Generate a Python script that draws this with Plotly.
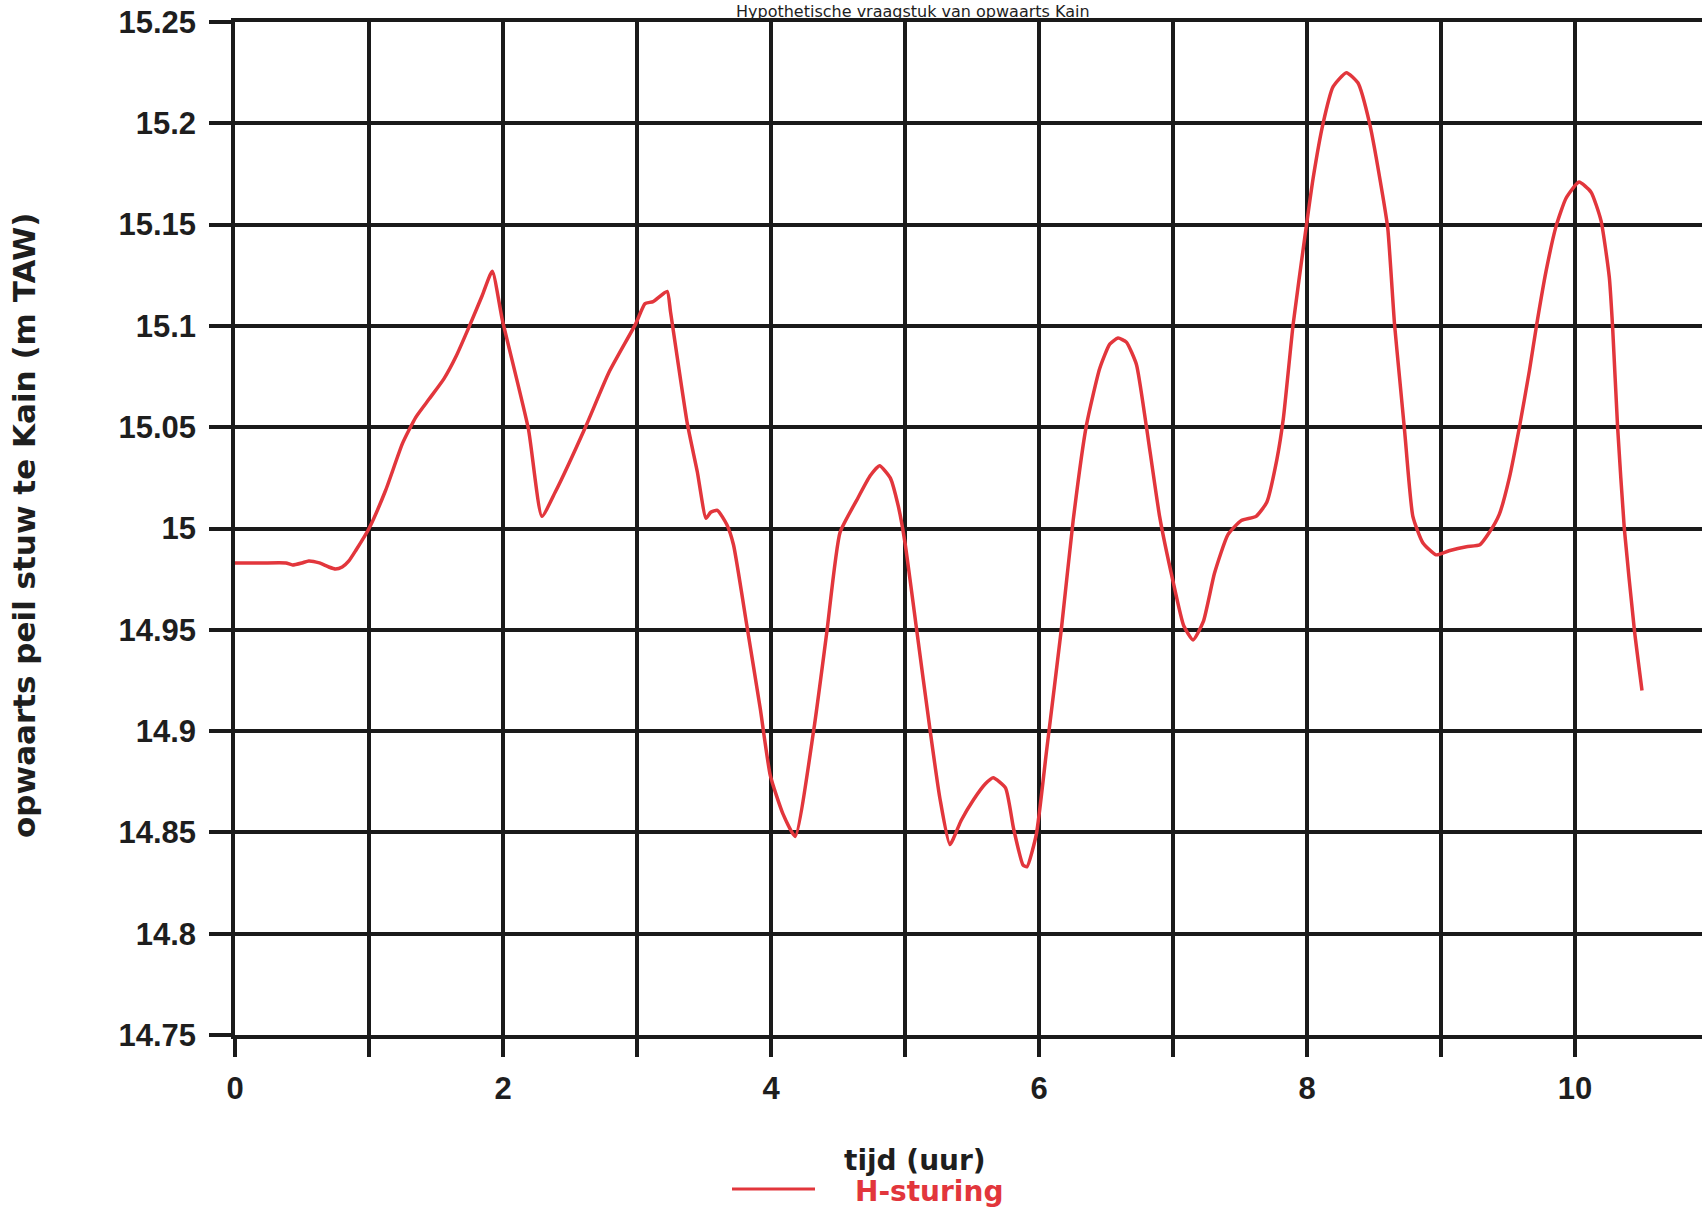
import plotly.graph_objects as go

# time (hours) and upstream water level at the Kain weir (m TAW)
tijd = [0.0, 0.20, 0.38, 0.43, 0.50, 0.55, 0.63, 0.70, 0.75, 0.80, 0.85, 0.90,
        1.00, 1.125, 1.25, 1.35, 1.45, 1.56, 1.65, 1.75, 1.845, 1.92, 1.995,
        2.19, 2.29, 2.39, 2.615, 2.79, 2.99, 3.06, 3.12, 3.225, 3.25, 3.375,
        3.45, 3.515, 3.55, 3.60, 3.67, 3.72, 3.82, 3.92, 3.995, 4.09, 4.18,
        4.32, 4.415, 4.515, 4.64, 4.74, 4.81, 4.89, 4.95, 5.0, 5.087, 5.186,
        5.26, 5.335, 5.42, 5.51, 5.60, 5.658, 5.75, 5.81, 5.88, 5.91, 5.98,
        6.056, 6.168, 6.255, 6.354, 6.453, 6.528, 6.59, 6.652, 6.727, 6.80,
        6.90, 7.0, 7.08, 7.15, 7.226, 7.31, 7.41, 7.51, 7.62, 7.70, 7.775,
        7.823, 7.897, 7.984, 8.046, 8.12, 8.194, 8.294, 8.38, 8.467, 8.566,
        8.603, 8.653, 8.69, 8.73, 8.79, 8.864, 8.963, 9.06, 9.19, 9.29, 9.36,
        9.435, 9.51, 9.585, 9.66, 9.71, 9.784, 9.858, 9.933, 10.03, 10.12,
        10.194, 10.256, 10.281, 10.318, 10.368, 10.443, 10.50]
h_sturing = [14.983, 14.983, 14.983, 14.982, 14.983, 14.984, 14.983, 14.981,
             14.980, 14.981, 14.984, 14.989, 15.000, 15.019, 15.042, 15.055,
             15.064, 15.074, 15.085, 15.100, 15.115, 15.127, 15.103, 15.049,
             15.006, 15.018, 15.050, 15.077, 15.101, 15.111, 15.112, 15.117,
             15.107, 15.052, 15.028, 15.005, 15.008, 15.009, 15.002, 14.992,
             14.952, 14.911, 14.878, 14.859, 14.848, 14.901, 14.948, 14.998,
             15.014, 15.026, 15.031, 15.025, 15.011, 14.993, 14.950, 14.901,
             14.867, 14.844, 14.856, 14.866, 14.874, 14.877, 14.872, 14.852,
             14.834, 14.833, 14.849, 14.890, 14.951, 15.004, 15.051, 15.079,
             15.091, 15.094, 15.092, 15.081, 15.051, 15.006, 14.974, 14.952,
             14.945, 14.954, 14.978, 14.997, 15.004, 15.006, 15.013, 15.034,
             15.054, 15.101, 15.144, 15.173, 15.200, 15.218, 15.225, 15.220,
             15.200, 15.164, 15.148, 15.101, 15.075, 15.047, 15.006, 14.993,
             14.987, 14.989, 14.991, 14.992, 14.998, 15.007, 15.025, 15.050,
             15.078, 15.099, 15.127, 15.149, 15.163, 15.171, 15.166, 15.152,
             15.124, 15.099, 15.050, 15.000, 14.950, 14.920]

x_tickvals = [0, 1, 2, 3, 4, 5, 6, 7, 8, 9, 10]
x_ticktext = ["0", "", "2", "", "4", "", "6", "", "8", "", "10"]
y_tickvals = [14.75, 14.8, 14.85, 14.9, 14.95, 15.0, 15.05, 15.1, 15.15, 15.2, 15.25]
y_ticktext = ["14.75", "14.8", "14.85", "14.9", "14.95", "15", "15.05", "15.1",
              "15.15", "15.2", "15.25"]

GRID = "#1a1a1a"
RED = "#e2363c"
TICKFONT = dict(family="Liberation Sans", size=31, color="#1e1e1e", weight="bold")
TITLEFONT = dict(family="DejaVu Sans", size=28, color="#1e1e1e")

fig = go.Figure()
fig.add_trace(go.Scatter(x=tijd, y=h_sturing, mode="lines", name="H-sturing",
                         line=dict(color=RED, width=3.5, shape="spline", smoothing=0.5),
                         showlegend=False))

W, H = 1702, 1209
L, T, B = 235, 22, 174
PW, PH = W - L, H - T - B

def px(xp):
    return (xp - L) / PW

def py(yp):
    return (H - B - yp) / PH

fig.update_layout(
    width=W, height=H,
    margin=dict(l=L, r=0, t=T, b=B),
    paper_bgcolor="white", plot_bgcolor="white",
    xaxis=dict(range=[0, PW / 134.0], tickvals=x_tickvals, ticktext=x_ticktext,
               showgrid=True, gridcolor=GRID, gridwidth=3.5, zeroline=False,
               showline=True, linecolor=GRID, linewidth=3.5, mirror=True,
               ticks="outside", ticklen=18, tickwidth=3.5, tickcolor=GRID,
               tickfont=TICKFONT, ticklabelstandoff=5),
    yaxis=dict(range=[14.75, 15.25], tickvals=y_tickvals, ticktext=y_ticktext,
               showgrid=True, gridcolor=GRID, gridwidth=4, zeroline=False,
               showline=True, linecolor=GRID, linewidth=3.5,
               ticks="outside", ticklen=22, tickwidth=4, tickcolor=GRID,
               tickfont=TICKFONT, ticklabelstandoff=7),
    annotations=[
        dict(text="Hypothetische vraagstuk van opwaarts Kain", xref="paper", yref="paper",
             x=px(913), y=py(0), xanchor="center", yanchor="top",
             showarrow=False, font=dict(family="DejaVu Sans", size=16, color="#1e1e1e")),
        dict(text="<b>tijd (uur)</b>", xref="paper", yref="paper",
             x=px(915), y=py(1160), xanchor="center", yanchor="middle",
             showarrow=False, font=TITLEFONT),
        dict(text="<b>opwaarts peil stuw te Kain (m TAW)</b>", xref="paper", yref="paper",
             x=px(24), y=py(526), xanchor="center", yanchor="middle", textangle=-90,
             showarrow=False, font=dict(family="DejaVu Sans", size=31, color="#1e1e1e")),
        dict(text="<b>H-sturing</b>", xref="paper", yref="paper",
             x=px(853), y=py(1191), xanchor="left", yanchor="middle",
             showarrow=False, font=dict(family="DejaVu Sans", size=28, color=RED)),
    ],
    shapes=[dict(type="line", xref="paper", yref="paper",
                 x0=px(732), x1=px(815), y0=py(1189), y1=py(1189),
                 line=dict(color=RED, width=3))],
)

fig.write_html("out.html")
